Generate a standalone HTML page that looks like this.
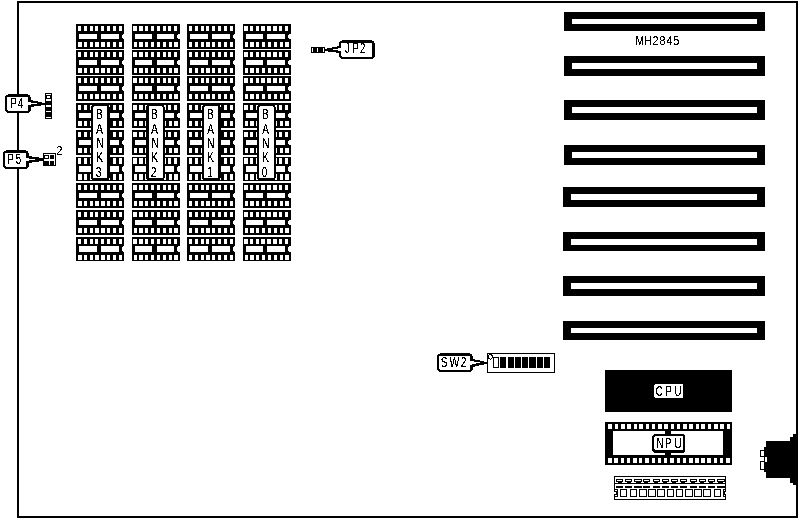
<!DOCTYPE html>
<html lang="en">
<head>
<meta charset="utf-8">
<title>MH2845</title>
<style>
html,body{margin:0;padding:0;background:#fff;}
body{width:800px;height:520px;overflow:hidden;}
svg{display:block;}
svg text{font-family:"Liberation Sans",sans-serif;filter:url(#bw);}
</style>
</head>
<body>
<svg width="800" height="520" viewBox="0 0 800 520" shape-rendering="crispEdges">
<defs><filter id="bw" x="-20%" y="-20%" width="140%" height="140%" color-interpolation-filters="sRGB"><feComponentTransfer><feFuncA type="discrete" tableValues="0 0 1 1 1"/></feComponentTransfer></filter></defs>
<rect x="0" y="0" width="800" height="520" fill="#fff"/>
<rect x="17" y="1" width="781" height="2" fill="#000"/>
<rect x="17" y="516" width="781" height="2" fill="#000"/>
<rect x="17" y="1" width="2" height="517" fill="#000"/>
<rect x="796" y="1" width="2" height="517" fill="#000"/>
<rect x="564" y="12" width="201" height="19" fill="#000"/>
<rect x="572" y="19" width="185" height="5" fill="#fff"/>
<rect x="564" y="56" width="201" height="20" fill="#000"/>
<rect x="572" y="63" width="185" height="6" fill="#fff"/>
<rect x="564" y="100" width="201" height="20" fill="#000"/>
<rect x="572" y="107" width="185" height="6" fill="#fff"/>
<rect x="564" y="145" width="201" height="20" fill="#000"/>
<rect x="572" y="152" width="185" height="6" fill="#fff"/>
<rect x="563" y="187" width="202" height="20" fill="#000"/>
<rect x="571" y="194" width="186" height="6" fill="#fff"/>
<rect x="563" y="232" width="202" height="19" fill="#000"/>
<rect x="571" y="239" width="186" height="6" fill="#fff"/>
<rect x="563" y="276" width="202" height="20" fill="#000"/>
<rect x="571" y="283" width="186" height="6" fill="#fff"/>
<rect x="563" y="321" width="202" height="19" fill="#000"/>
<rect x="571" y="328" width="186" height="5" fill="#fff"/>
<rect x="76" y="24" width="48" height="25" fill="#000"/>
<rect x="78" y="26" width="3" height="5" fill="#fff"/>
<rect x="84" y="26" width="3" height="5" fill="#fff"/>
<rect x="90" y="26" width="3" height="5" fill="#fff"/>
<rect x="95" y="26" width="3" height="5" fill="#fff"/>
<rect x="101" y="26" width="3" height="5" fill="#fff"/>
<rect x="107" y="26" width="3" height="5" fill="#fff"/>
<rect x="113" y="26" width="3" height="5" fill="#fff"/>
<rect x="119" y="26" width="3" height="5" fill="#fff"/>
<rect x="78" y="42" width="4" height="5" fill="#fff"/>
<rect x="84" y="42" width="3" height="5" fill="#fff"/>
<rect x="90" y="42" width="3" height="5" fill="#fff"/>
<rect x="95" y="42" width="4" height="5" fill="#fff"/>
<rect x="101" y="42" width="4" height="5" fill="#fff"/>
<rect x="107" y="42" width="3" height="5" fill="#fff"/>
<rect x="113" y="42" width="3" height="5" fill="#fff"/>
<rect x="119" y="42" width="3" height="5" fill="#fff"/>
<rect x="79" y="34" width="18" height="5" fill="#fff"/>
<rect x="101" y="34" width="18" height="5" fill="#fff"/>
<rect x="123" y="34" width="1" height="5" fill="#fff"/>
<rect x="122" y="35" width="1" height="3" fill="#fff"/>
<rect x="76" y="50" width="48" height="25" fill="#000"/>
<rect x="78" y="52" width="3" height="5" fill="#fff"/>
<rect x="84" y="52" width="3" height="5" fill="#fff"/>
<rect x="90" y="52" width="3" height="5" fill="#fff"/>
<rect x="95" y="52" width="3" height="5" fill="#fff"/>
<rect x="101" y="52" width="3" height="5" fill="#fff"/>
<rect x="107" y="52" width="3" height="5" fill="#fff"/>
<rect x="113" y="52" width="3" height="5" fill="#fff"/>
<rect x="119" y="52" width="3" height="5" fill="#fff"/>
<rect x="78" y="68" width="4" height="5" fill="#fff"/>
<rect x="84" y="68" width="3" height="5" fill="#fff"/>
<rect x="90" y="68" width="3" height="5" fill="#fff"/>
<rect x="95" y="68" width="4" height="5" fill="#fff"/>
<rect x="101" y="68" width="4" height="5" fill="#fff"/>
<rect x="107" y="68" width="3" height="5" fill="#fff"/>
<rect x="113" y="68" width="3" height="5" fill="#fff"/>
<rect x="119" y="68" width="3" height="5" fill="#fff"/>
<rect x="79" y="60" width="18" height="5" fill="#fff"/>
<rect x="101" y="60" width="18" height="5" fill="#fff"/>
<rect x="123" y="60" width="1" height="5" fill="#fff"/>
<rect x="122" y="61" width="1" height="3" fill="#fff"/>
<rect x="76" y="76" width="48" height="25" fill="#000"/>
<rect x="78" y="78" width="3" height="5" fill="#fff"/>
<rect x="84" y="78" width="3" height="5" fill="#fff"/>
<rect x="90" y="78" width="3" height="5" fill="#fff"/>
<rect x="95" y="78" width="3" height="5" fill="#fff"/>
<rect x="101" y="78" width="3" height="5" fill="#fff"/>
<rect x="107" y="78" width="3" height="5" fill="#fff"/>
<rect x="113" y="78" width="3" height="5" fill="#fff"/>
<rect x="119" y="78" width="3" height="5" fill="#fff"/>
<rect x="78" y="94" width="4" height="5" fill="#fff"/>
<rect x="84" y="94" width="3" height="5" fill="#fff"/>
<rect x="90" y="94" width="3" height="5" fill="#fff"/>
<rect x="95" y="94" width="4" height="5" fill="#fff"/>
<rect x="101" y="94" width="4" height="5" fill="#fff"/>
<rect x="107" y="94" width="3" height="5" fill="#fff"/>
<rect x="113" y="94" width="3" height="5" fill="#fff"/>
<rect x="119" y="94" width="3" height="5" fill="#fff"/>
<rect x="79" y="86" width="18" height="5" fill="#fff"/>
<rect x="101" y="86" width="18" height="5" fill="#fff"/>
<rect x="123" y="86" width="1" height="5" fill="#fff"/>
<rect x="122" y="87" width="1" height="3" fill="#fff"/>
<rect x="76" y="103" width="48" height="25" fill="#000"/>
<rect x="78" y="105" width="3" height="5" fill="#fff"/>
<rect x="84" y="105" width="3" height="5" fill="#fff"/>
<rect x="90" y="105" width="3" height="5" fill="#fff"/>
<rect x="95" y="105" width="3" height="5" fill="#fff"/>
<rect x="101" y="105" width="3" height="5" fill="#fff"/>
<rect x="107" y="105" width="3" height="5" fill="#fff"/>
<rect x="113" y="105" width="3" height="5" fill="#fff"/>
<rect x="119" y="105" width="3" height="5" fill="#fff"/>
<rect x="78" y="121" width="4" height="5" fill="#fff"/>
<rect x="84" y="121" width="3" height="5" fill="#fff"/>
<rect x="90" y="121" width="3" height="5" fill="#fff"/>
<rect x="95" y="121" width="4" height="5" fill="#fff"/>
<rect x="101" y="121" width="4" height="5" fill="#fff"/>
<rect x="107" y="121" width="3" height="5" fill="#fff"/>
<rect x="113" y="121" width="3" height="5" fill="#fff"/>
<rect x="119" y="121" width="3" height="5" fill="#fff"/>
<rect x="79" y="113" width="18" height="5" fill="#fff"/>
<rect x="101" y="113" width="18" height="5" fill="#fff"/>
<rect x="123" y="113" width="1" height="5" fill="#fff"/>
<rect x="122" y="114" width="1" height="3" fill="#fff"/>
<rect x="76" y="130" width="48" height="25" fill="#000"/>
<rect x="78" y="132" width="3" height="5" fill="#fff"/>
<rect x="84" y="132" width="3" height="5" fill="#fff"/>
<rect x="90" y="132" width="3" height="5" fill="#fff"/>
<rect x="95" y="132" width="3" height="5" fill="#fff"/>
<rect x="101" y="132" width="3" height="5" fill="#fff"/>
<rect x="107" y="132" width="3" height="5" fill="#fff"/>
<rect x="113" y="132" width="3" height="5" fill="#fff"/>
<rect x="119" y="132" width="3" height="5" fill="#fff"/>
<rect x="78" y="148" width="4" height="5" fill="#fff"/>
<rect x="84" y="148" width="3" height="5" fill="#fff"/>
<rect x="90" y="148" width="3" height="5" fill="#fff"/>
<rect x="95" y="148" width="4" height="5" fill="#fff"/>
<rect x="101" y="148" width="4" height="5" fill="#fff"/>
<rect x="107" y="148" width="3" height="5" fill="#fff"/>
<rect x="113" y="148" width="3" height="5" fill="#fff"/>
<rect x="119" y="148" width="3" height="5" fill="#fff"/>
<rect x="79" y="140" width="18" height="5" fill="#fff"/>
<rect x="101" y="140" width="18" height="5" fill="#fff"/>
<rect x="123" y="140" width="1" height="5" fill="#fff"/>
<rect x="122" y="141" width="1" height="3" fill="#fff"/>
<rect x="76" y="157" width="48" height="24" fill="#000"/>
<rect x="78" y="158" width="3" height="6" fill="#fff"/>
<rect x="84" y="158" width="3" height="6" fill="#fff"/>
<rect x="90" y="158" width="3" height="6" fill="#fff"/>
<rect x="95" y="158" width="3" height="6" fill="#fff"/>
<rect x="101" y="158" width="3" height="6" fill="#fff"/>
<rect x="107" y="158" width="3" height="6" fill="#fff"/>
<rect x="113" y="158" width="3" height="6" fill="#fff"/>
<rect x="119" y="158" width="3" height="6" fill="#fff"/>
<rect x="78" y="174" width="4" height="6" fill="#fff"/>
<rect x="84" y="174" width="3" height="6" fill="#fff"/>
<rect x="90" y="174" width="3" height="6" fill="#fff"/>
<rect x="95" y="174" width="4" height="6" fill="#fff"/>
<rect x="101" y="174" width="4" height="6" fill="#fff"/>
<rect x="107" y="174" width="3" height="6" fill="#fff"/>
<rect x="113" y="174" width="3" height="6" fill="#fff"/>
<rect x="119" y="174" width="3" height="6" fill="#fff"/>
<rect x="79" y="166" width="18" height="6" fill="#fff"/>
<rect x="101" y="166" width="18" height="6" fill="#fff"/>
<rect x="123" y="166" width="1" height="6" fill="#fff"/>
<rect x="122" y="167" width="1" height="4" fill="#fff"/>
<rect x="76" y="183" width="48" height="25" fill="#000"/>
<rect x="78" y="185" width="3" height="5" fill="#fff"/>
<rect x="84" y="185" width="3" height="5" fill="#fff"/>
<rect x="90" y="185" width="3" height="5" fill="#fff"/>
<rect x="95" y="185" width="3" height="5" fill="#fff"/>
<rect x="101" y="185" width="3" height="5" fill="#fff"/>
<rect x="107" y="185" width="3" height="5" fill="#fff"/>
<rect x="113" y="185" width="3" height="5" fill="#fff"/>
<rect x="119" y="185" width="3" height="5" fill="#fff"/>
<rect x="78" y="201" width="4" height="5" fill="#fff"/>
<rect x="84" y="201" width="3" height="5" fill="#fff"/>
<rect x="90" y="201" width="3" height="5" fill="#fff"/>
<rect x="95" y="201" width="4" height="5" fill="#fff"/>
<rect x="101" y="201" width="4" height="5" fill="#fff"/>
<rect x="107" y="201" width="3" height="5" fill="#fff"/>
<rect x="113" y="201" width="3" height="5" fill="#fff"/>
<rect x="119" y="201" width="3" height="5" fill="#fff"/>
<rect x="79" y="193" width="18" height="5" fill="#fff"/>
<rect x="101" y="193" width="18" height="5" fill="#fff"/>
<rect x="123" y="193" width="1" height="5" fill="#fff"/>
<rect x="122" y="194" width="1" height="3" fill="#fff"/>
<rect x="76" y="210" width="48" height="25" fill="#000"/>
<rect x="78" y="212" width="3" height="5" fill="#fff"/>
<rect x="84" y="212" width="3" height="5" fill="#fff"/>
<rect x="90" y="212" width="3" height="5" fill="#fff"/>
<rect x="95" y="212" width="3" height="5" fill="#fff"/>
<rect x="101" y="212" width="3" height="5" fill="#fff"/>
<rect x="107" y="212" width="3" height="5" fill="#fff"/>
<rect x="113" y="212" width="3" height="5" fill="#fff"/>
<rect x="119" y="212" width="3" height="5" fill="#fff"/>
<rect x="78" y="228" width="4" height="5" fill="#fff"/>
<rect x="84" y="228" width="3" height="5" fill="#fff"/>
<rect x="90" y="228" width="3" height="5" fill="#fff"/>
<rect x="95" y="228" width="4" height="5" fill="#fff"/>
<rect x="101" y="228" width="4" height="5" fill="#fff"/>
<rect x="107" y="228" width="3" height="5" fill="#fff"/>
<rect x="113" y="228" width="3" height="5" fill="#fff"/>
<rect x="119" y="228" width="3" height="5" fill="#fff"/>
<rect x="79" y="220" width="18" height="5" fill="#fff"/>
<rect x="101" y="220" width="18" height="5" fill="#fff"/>
<rect x="123" y="220" width="1" height="5" fill="#fff"/>
<rect x="122" y="221" width="1" height="3" fill="#fff"/>
<rect x="76" y="237" width="48" height="24" fill="#000"/>
<rect x="78" y="239" width="3" height="5" fill="#fff"/>
<rect x="84" y="239" width="3" height="5" fill="#fff"/>
<rect x="90" y="239" width="3" height="5" fill="#fff"/>
<rect x="95" y="239" width="3" height="5" fill="#fff"/>
<rect x="101" y="239" width="3" height="5" fill="#fff"/>
<rect x="107" y="239" width="3" height="5" fill="#fff"/>
<rect x="113" y="239" width="3" height="5" fill="#fff"/>
<rect x="119" y="239" width="3" height="5" fill="#fff"/>
<rect x="78" y="255" width="4" height="5" fill="#fff"/>
<rect x="84" y="255" width="3" height="5" fill="#fff"/>
<rect x="90" y="255" width="3" height="5" fill="#fff"/>
<rect x="95" y="255" width="4" height="5" fill="#fff"/>
<rect x="101" y="255" width="4" height="5" fill="#fff"/>
<rect x="107" y="255" width="3" height="5" fill="#fff"/>
<rect x="113" y="255" width="3" height="5" fill="#fff"/>
<rect x="119" y="255" width="3" height="5" fill="#fff"/>
<rect x="79" y="246" width="18" height="6" fill="#fff"/>
<rect x="101" y="246" width="18" height="6" fill="#fff"/>
<rect x="123" y="246" width="1" height="6" fill="#fff"/>
<rect x="122" y="247" width="1" height="4" fill="#fff"/>
<rect x="132" y="24" width="48" height="25" fill="#000"/>
<rect x="133" y="26" width="4" height="5" fill="#fff"/>
<rect x="139" y="26" width="4" height="5" fill="#fff"/>
<rect x="145" y="26" width="3" height="5" fill="#fff"/>
<rect x="151" y="26" width="3" height="5" fill="#fff"/>
<rect x="157" y="26" width="3" height="5" fill="#fff"/>
<rect x="163" y="26" width="3" height="5" fill="#fff"/>
<rect x="168" y="26" width="3" height="5" fill="#fff"/>
<rect x="174" y="26" width="3" height="5" fill="#fff"/>
<rect x="134" y="42" width="3" height="5" fill="#fff"/>
<rect x="139" y="42" width="4" height="5" fill="#fff"/>
<rect x="145" y="42" width="3" height="5" fill="#fff"/>
<rect x="151" y="42" width="3" height="5" fill="#fff"/>
<rect x="157" y="42" width="3" height="5" fill="#fff"/>
<rect x="163" y="42" width="3" height="5" fill="#fff"/>
<rect x="169" y="42" width="3" height="5" fill="#fff"/>
<rect x="174" y="42" width="4" height="5" fill="#fff"/>
<rect x="135" y="34" width="17" height="5" fill="#fff"/>
<rect x="157" y="34" width="17" height="5" fill="#fff"/>
<rect x="178" y="34" width="2" height="5" fill="#fff"/>
<rect x="177" y="35" width="1" height="3" fill="#fff"/>
<rect x="132" y="50" width="48" height="25" fill="#000"/>
<rect x="133" y="52" width="4" height="5" fill="#fff"/>
<rect x="139" y="52" width="4" height="5" fill="#fff"/>
<rect x="145" y="52" width="3" height="5" fill="#fff"/>
<rect x="151" y="52" width="3" height="5" fill="#fff"/>
<rect x="157" y="52" width="3" height="5" fill="#fff"/>
<rect x="163" y="52" width="3" height="5" fill="#fff"/>
<rect x="168" y="52" width="3" height="5" fill="#fff"/>
<rect x="174" y="52" width="3" height="5" fill="#fff"/>
<rect x="134" y="68" width="3" height="5" fill="#fff"/>
<rect x="139" y="68" width="4" height="5" fill="#fff"/>
<rect x="145" y="68" width="3" height="5" fill="#fff"/>
<rect x="151" y="68" width="3" height="5" fill="#fff"/>
<rect x="157" y="68" width="3" height="5" fill="#fff"/>
<rect x="163" y="68" width="3" height="5" fill="#fff"/>
<rect x="169" y="68" width="3" height="5" fill="#fff"/>
<rect x="174" y="68" width="4" height="5" fill="#fff"/>
<rect x="135" y="60" width="17" height="5" fill="#fff"/>
<rect x="157" y="60" width="17" height="5" fill="#fff"/>
<rect x="178" y="60" width="2" height="5" fill="#fff"/>
<rect x="177" y="61" width="1" height="3" fill="#fff"/>
<rect x="132" y="76" width="48" height="25" fill="#000"/>
<rect x="133" y="78" width="4" height="5" fill="#fff"/>
<rect x="139" y="78" width="4" height="5" fill="#fff"/>
<rect x="145" y="78" width="3" height="5" fill="#fff"/>
<rect x="151" y="78" width="3" height="5" fill="#fff"/>
<rect x="157" y="78" width="3" height="5" fill="#fff"/>
<rect x="163" y="78" width="3" height="5" fill="#fff"/>
<rect x="168" y="78" width="3" height="5" fill="#fff"/>
<rect x="174" y="78" width="3" height="5" fill="#fff"/>
<rect x="134" y="94" width="3" height="5" fill="#fff"/>
<rect x="139" y="94" width="4" height="5" fill="#fff"/>
<rect x="145" y="94" width="3" height="5" fill="#fff"/>
<rect x="151" y="94" width="3" height="5" fill="#fff"/>
<rect x="157" y="94" width="3" height="5" fill="#fff"/>
<rect x="163" y="94" width="3" height="5" fill="#fff"/>
<rect x="169" y="94" width="3" height="5" fill="#fff"/>
<rect x="174" y="94" width="4" height="5" fill="#fff"/>
<rect x="135" y="86" width="17" height="5" fill="#fff"/>
<rect x="157" y="86" width="17" height="5" fill="#fff"/>
<rect x="178" y="86" width="2" height="5" fill="#fff"/>
<rect x="177" y="87" width="1" height="3" fill="#fff"/>
<rect x="132" y="103" width="48" height="25" fill="#000"/>
<rect x="133" y="105" width="4" height="5" fill="#fff"/>
<rect x="139" y="105" width="4" height="5" fill="#fff"/>
<rect x="145" y="105" width="3" height="5" fill="#fff"/>
<rect x="151" y="105" width="3" height="5" fill="#fff"/>
<rect x="157" y="105" width="3" height="5" fill="#fff"/>
<rect x="163" y="105" width="3" height="5" fill="#fff"/>
<rect x="168" y="105" width="3" height="5" fill="#fff"/>
<rect x="174" y="105" width="3" height="5" fill="#fff"/>
<rect x="134" y="121" width="3" height="5" fill="#fff"/>
<rect x="139" y="121" width="4" height="5" fill="#fff"/>
<rect x="145" y="121" width="3" height="5" fill="#fff"/>
<rect x="151" y="121" width="3" height="5" fill="#fff"/>
<rect x="157" y="121" width="3" height="5" fill="#fff"/>
<rect x="163" y="121" width="3" height="5" fill="#fff"/>
<rect x="169" y="121" width="3" height="5" fill="#fff"/>
<rect x="174" y="121" width="4" height="5" fill="#fff"/>
<rect x="135" y="113" width="17" height="5" fill="#fff"/>
<rect x="157" y="113" width="17" height="5" fill="#fff"/>
<rect x="178" y="113" width="2" height="5" fill="#fff"/>
<rect x="177" y="114" width="1" height="3" fill="#fff"/>
<rect x="132" y="130" width="48" height="25" fill="#000"/>
<rect x="133" y="132" width="4" height="5" fill="#fff"/>
<rect x="139" y="132" width="4" height="5" fill="#fff"/>
<rect x="145" y="132" width="3" height="5" fill="#fff"/>
<rect x="151" y="132" width="3" height="5" fill="#fff"/>
<rect x="157" y="132" width="3" height="5" fill="#fff"/>
<rect x="163" y="132" width="3" height="5" fill="#fff"/>
<rect x="168" y="132" width="3" height="5" fill="#fff"/>
<rect x="174" y="132" width="3" height="5" fill="#fff"/>
<rect x="134" y="148" width="3" height="5" fill="#fff"/>
<rect x="139" y="148" width="4" height="5" fill="#fff"/>
<rect x="145" y="148" width="3" height="5" fill="#fff"/>
<rect x="151" y="148" width="3" height="5" fill="#fff"/>
<rect x="157" y="148" width="3" height="5" fill="#fff"/>
<rect x="163" y="148" width="3" height="5" fill="#fff"/>
<rect x="169" y="148" width="3" height="5" fill="#fff"/>
<rect x="174" y="148" width="4" height="5" fill="#fff"/>
<rect x="135" y="140" width="17" height="5" fill="#fff"/>
<rect x="157" y="140" width="17" height="5" fill="#fff"/>
<rect x="178" y="140" width="2" height="5" fill="#fff"/>
<rect x="177" y="141" width="1" height="3" fill="#fff"/>
<rect x="132" y="157" width="48" height="24" fill="#000"/>
<rect x="133" y="158" width="4" height="6" fill="#fff"/>
<rect x="139" y="158" width="4" height="6" fill="#fff"/>
<rect x="145" y="158" width="3" height="6" fill="#fff"/>
<rect x="151" y="158" width="3" height="6" fill="#fff"/>
<rect x="157" y="158" width="3" height="6" fill="#fff"/>
<rect x="163" y="158" width="3" height="6" fill="#fff"/>
<rect x="168" y="158" width="3" height="6" fill="#fff"/>
<rect x="174" y="158" width="3" height="6" fill="#fff"/>
<rect x="134" y="174" width="3" height="6" fill="#fff"/>
<rect x="139" y="174" width="4" height="6" fill="#fff"/>
<rect x="145" y="174" width="3" height="6" fill="#fff"/>
<rect x="151" y="174" width="3" height="6" fill="#fff"/>
<rect x="157" y="174" width="3" height="6" fill="#fff"/>
<rect x="163" y="174" width="3" height="6" fill="#fff"/>
<rect x="169" y="174" width="3" height="6" fill="#fff"/>
<rect x="174" y="174" width="4" height="6" fill="#fff"/>
<rect x="135" y="166" width="17" height="6" fill="#fff"/>
<rect x="157" y="166" width="17" height="6" fill="#fff"/>
<rect x="178" y="166" width="2" height="6" fill="#fff"/>
<rect x="177" y="167" width="1" height="4" fill="#fff"/>
<rect x="132" y="183" width="48" height="25" fill="#000"/>
<rect x="133" y="185" width="4" height="5" fill="#fff"/>
<rect x="139" y="185" width="4" height="5" fill="#fff"/>
<rect x="145" y="185" width="3" height="5" fill="#fff"/>
<rect x="151" y="185" width="3" height="5" fill="#fff"/>
<rect x="157" y="185" width="3" height="5" fill="#fff"/>
<rect x="163" y="185" width="3" height="5" fill="#fff"/>
<rect x="168" y="185" width="3" height="5" fill="#fff"/>
<rect x="174" y="185" width="3" height="5" fill="#fff"/>
<rect x="134" y="201" width="3" height="5" fill="#fff"/>
<rect x="139" y="201" width="4" height="5" fill="#fff"/>
<rect x="145" y="201" width="3" height="5" fill="#fff"/>
<rect x="151" y="201" width="3" height="5" fill="#fff"/>
<rect x="157" y="201" width="3" height="5" fill="#fff"/>
<rect x="163" y="201" width="3" height="5" fill="#fff"/>
<rect x="169" y="201" width="3" height="5" fill="#fff"/>
<rect x="174" y="201" width="4" height="5" fill="#fff"/>
<rect x="135" y="193" width="17" height="5" fill="#fff"/>
<rect x="157" y="193" width="17" height="5" fill="#fff"/>
<rect x="178" y="193" width="2" height="5" fill="#fff"/>
<rect x="177" y="194" width="1" height="3" fill="#fff"/>
<rect x="132" y="210" width="48" height="25" fill="#000"/>
<rect x="133" y="212" width="4" height="5" fill="#fff"/>
<rect x="139" y="212" width="4" height="5" fill="#fff"/>
<rect x="145" y="212" width="3" height="5" fill="#fff"/>
<rect x="151" y="212" width="3" height="5" fill="#fff"/>
<rect x="157" y="212" width="3" height="5" fill="#fff"/>
<rect x="163" y="212" width="3" height="5" fill="#fff"/>
<rect x="168" y="212" width="3" height="5" fill="#fff"/>
<rect x="174" y="212" width="3" height="5" fill="#fff"/>
<rect x="134" y="228" width="3" height="5" fill="#fff"/>
<rect x="139" y="228" width="4" height="5" fill="#fff"/>
<rect x="145" y="228" width="3" height="5" fill="#fff"/>
<rect x="151" y="228" width="3" height="5" fill="#fff"/>
<rect x="157" y="228" width="3" height="5" fill="#fff"/>
<rect x="163" y="228" width="3" height="5" fill="#fff"/>
<rect x="169" y="228" width="3" height="5" fill="#fff"/>
<rect x="174" y="228" width="4" height="5" fill="#fff"/>
<rect x="135" y="220" width="17" height="5" fill="#fff"/>
<rect x="157" y="220" width="17" height="5" fill="#fff"/>
<rect x="178" y="220" width="2" height="5" fill="#fff"/>
<rect x="177" y="221" width="1" height="3" fill="#fff"/>
<rect x="132" y="237" width="48" height="24" fill="#000"/>
<rect x="133" y="239" width="4" height="5" fill="#fff"/>
<rect x="139" y="239" width="4" height="5" fill="#fff"/>
<rect x="145" y="239" width="3" height="5" fill="#fff"/>
<rect x="151" y="239" width="3" height="5" fill="#fff"/>
<rect x="157" y="239" width="3" height="5" fill="#fff"/>
<rect x="163" y="239" width="3" height="5" fill="#fff"/>
<rect x="168" y="239" width="3" height="5" fill="#fff"/>
<rect x="174" y="239" width="3" height="5" fill="#fff"/>
<rect x="134" y="255" width="3" height="5" fill="#fff"/>
<rect x="139" y="255" width="4" height="5" fill="#fff"/>
<rect x="145" y="255" width="3" height="5" fill="#fff"/>
<rect x="151" y="255" width="3" height="5" fill="#fff"/>
<rect x="157" y="255" width="3" height="5" fill="#fff"/>
<rect x="163" y="255" width="3" height="5" fill="#fff"/>
<rect x="169" y="255" width="3" height="5" fill="#fff"/>
<rect x="174" y="255" width="4" height="5" fill="#fff"/>
<rect x="135" y="246" width="17" height="6" fill="#fff"/>
<rect x="157" y="246" width="17" height="6" fill="#fff"/>
<rect x="178" y="246" width="2" height="6" fill="#fff"/>
<rect x="177" y="247" width="1" height="4" fill="#fff"/>
<rect x="187" y="24" width="48" height="25" fill="#000"/>
<rect x="189" y="26" width="3" height="5" fill="#fff"/>
<rect x="195" y="26" width="3" height="5" fill="#fff"/>
<rect x="201" y="26" width="3" height="5" fill="#fff"/>
<rect x="206" y="26" width="3" height="5" fill="#fff"/>
<rect x="212" y="26" width="3" height="5" fill="#fff"/>
<rect x="218" y="26" width="3" height="5" fill="#fff"/>
<rect x="224" y="26" width="3" height="5" fill="#fff"/>
<rect x="230" y="26" width="3" height="5" fill="#fff"/>
<rect x="189" y="42" width="3" height="5" fill="#fff"/>
<rect x="195" y="42" width="3" height="5" fill="#fff"/>
<rect x="201" y="42" width="3" height="5" fill="#fff"/>
<rect x="206" y="42" width="4" height="5" fill="#fff"/>
<rect x="212" y="42" width="3" height="5" fill="#fff"/>
<rect x="218" y="42" width="3" height="5" fill="#fff"/>
<rect x="224" y="42" width="3" height="5" fill="#fff"/>
<rect x="230" y="42" width="3" height="5" fill="#fff"/>
<rect x="190" y="34" width="18" height="5" fill="#fff"/>
<rect x="212" y="34" width="18" height="5" fill="#fff"/>
<rect x="234" y="34" width="1" height="5" fill="#fff"/>
<rect x="233" y="35" width="1" height="3" fill="#fff"/>
<rect x="187" y="50" width="48" height="25" fill="#000"/>
<rect x="189" y="52" width="3" height="5" fill="#fff"/>
<rect x="195" y="52" width="3" height="5" fill="#fff"/>
<rect x="201" y="52" width="3" height="5" fill="#fff"/>
<rect x="206" y="52" width="3" height="5" fill="#fff"/>
<rect x="212" y="52" width="3" height="5" fill="#fff"/>
<rect x="218" y="52" width="3" height="5" fill="#fff"/>
<rect x="224" y="52" width="3" height="5" fill="#fff"/>
<rect x="230" y="52" width="3" height="5" fill="#fff"/>
<rect x="189" y="68" width="3" height="5" fill="#fff"/>
<rect x="195" y="68" width="3" height="5" fill="#fff"/>
<rect x="201" y="68" width="3" height="5" fill="#fff"/>
<rect x="206" y="68" width="4" height="5" fill="#fff"/>
<rect x="212" y="68" width="3" height="5" fill="#fff"/>
<rect x="218" y="68" width="3" height="5" fill="#fff"/>
<rect x="224" y="68" width="3" height="5" fill="#fff"/>
<rect x="230" y="68" width="3" height="5" fill="#fff"/>
<rect x="190" y="60" width="18" height="5" fill="#fff"/>
<rect x="212" y="60" width="18" height="5" fill="#fff"/>
<rect x="234" y="60" width="1" height="5" fill="#fff"/>
<rect x="233" y="61" width="1" height="3" fill="#fff"/>
<rect x="187" y="76" width="48" height="25" fill="#000"/>
<rect x="189" y="78" width="3" height="5" fill="#fff"/>
<rect x="195" y="78" width="3" height="5" fill="#fff"/>
<rect x="201" y="78" width="3" height="5" fill="#fff"/>
<rect x="206" y="78" width="3" height="5" fill="#fff"/>
<rect x="212" y="78" width="3" height="5" fill="#fff"/>
<rect x="218" y="78" width="3" height="5" fill="#fff"/>
<rect x="224" y="78" width="3" height="5" fill="#fff"/>
<rect x="230" y="78" width="3" height="5" fill="#fff"/>
<rect x="189" y="94" width="3" height="5" fill="#fff"/>
<rect x="195" y="94" width="3" height="5" fill="#fff"/>
<rect x="201" y="94" width="3" height="5" fill="#fff"/>
<rect x="206" y="94" width="4" height="5" fill="#fff"/>
<rect x="212" y="94" width="3" height="5" fill="#fff"/>
<rect x="218" y="94" width="3" height="5" fill="#fff"/>
<rect x="224" y="94" width="3" height="5" fill="#fff"/>
<rect x="230" y="94" width="3" height="5" fill="#fff"/>
<rect x="190" y="86" width="18" height="5" fill="#fff"/>
<rect x="212" y="86" width="18" height="5" fill="#fff"/>
<rect x="234" y="86" width="1" height="5" fill="#fff"/>
<rect x="233" y="87" width="1" height="3" fill="#fff"/>
<rect x="187" y="103" width="48" height="25" fill="#000"/>
<rect x="189" y="105" width="3" height="5" fill="#fff"/>
<rect x="195" y="105" width="3" height="5" fill="#fff"/>
<rect x="201" y="105" width="3" height="5" fill="#fff"/>
<rect x="206" y="105" width="3" height="5" fill="#fff"/>
<rect x="212" y="105" width="3" height="5" fill="#fff"/>
<rect x="218" y="105" width="3" height="5" fill="#fff"/>
<rect x="224" y="105" width="3" height="5" fill="#fff"/>
<rect x="230" y="105" width="3" height="5" fill="#fff"/>
<rect x="189" y="121" width="3" height="5" fill="#fff"/>
<rect x="195" y="121" width="3" height="5" fill="#fff"/>
<rect x="201" y="121" width="3" height="5" fill="#fff"/>
<rect x="206" y="121" width="4" height="5" fill="#fff"/>
<rect x="212" y="121" width="3" height="5" fill="#fff"/>
<rect x="218" y="121" width="3" height="5" fill="#fff"/>
<rect x="224" y="121" width="3" height="5" fill="#fff"/>
<rect x="230" y="121" width="3" height="5" fill="#fff"/>
<rect x="190" y="113" width="18" height="5" fill="#fff"/>
<rect x="212" y="113" width="18" height="5" fill="#fff"/>
<rect x="234" y="113" width="1" height="5" fill="#fff"/>
<rect x="233" y="114" width="1" height="3" fill="#fff"/>
<rect x="187" y="130" width="48" height="25" fill="#000"/>
<rect x="189" y="132" width="3" height="5" fill="#fff"/>
<rect x="195" y="132" width="3" height="5" fill="#fff"/>
<rect x="201" y="132" width="3" height="5" fill="#fff"/>
<rect x="206" y="132" width="3" height="5" fill="#fff"/>
<rect x="212" y="132" width="3" height="5" fill="#fff"/>
<rect x="218" y="132" width="3" height="5" fill="#fff"/>
<rect x="224" y="132" width="3" height="5" fill="#fff"/>
<rect x="230" y="132" width="3" height="5" fill="#fff"/>
<rect x="189" y="148" width="3" height="5" fill="#fff"/>
<rect x="195" y="148" width="3" height="5" fill="#fff"/>
<rect x="201" y="148" width="3" height="5" fill="#fff"/>
<rect x="206" y="148" width="4" height="5" fill="#fff"/>
<rect x="212" y="148" width="3" height="5" fill="#fff"/>
<rect x="218" y="148" width="3" height="5" fill="#fff"/>
<rect x="224" y="148" width="3" height="5" fill="#fff"/>
<rect x="230" y="148" width="3" height="5" fill="#fff"/>
<rect x="190" y="140" width="18" height="5" fill="#fff"/>
<rect x="212" y="140" width="18" height="5" fill="#fff"/>
<rect x="234" y="140" width="1" height="5" fill="#fff"/>
<rect x="233" y="141" width="1" height="3" fill="#fff"/>
<rect x="187" y="157" width="48" height="24" fill="#000"/>
<rect x="189" y="158" width="3" height="6" fill="#fff"/>
<rect x="195" y="158" width="3" height="6" fill="#fff"/>
<rect x="201" y="158" width="3" height="6" fill="#fff"/>
<rect x="206" y="158" width="3" height="6" fill="#fff"/>
<rect x="212" y="158" width="3" height="6" fill="#fff"/>
<rect x="218" y="158" width="3" height="6" fill="#fff"/>
<rect x="224" y="158" width="3" height="6" fill="#fff"/>
<rect x="230" y="158" width="3" height="6" fill="#fff"/>
<rect x="189" y="174" width="3" height="6" fill="#fff"/>
<rect x="195" y="174" width="3" height="6" fill="#fff"/>
<rect x="201" y="174" width="3" height="6" fill="#fff"/>
<rect x="206" y="174" width="4" height="6" fill="#fff"/>
<rect x="212" y="174" width="3" height="6" fill="#fff"/>
<rect x="218" y="174" width="3" height="6" fill="#fff"/>
<rect x="224" y="174" width="3" height="6" fill="#fff"/>
<rect x="230" y="174" width="3" height="6" fill="#fff"/>
<rect x="190" y="166" width="18" height="6" fill="#fff"/>
<rect x="212" y="166" width="18" height="6" fill="#fff"/>
<rect x="234" y="166" width="1" height="6" fill="#fff"/>
<rect x="233" y="167" width="1" height="4" fill="#fff"/>
<rect x="187" y="183" width="48" height="25" fill="#000"/>
<rect x="189" y="185" width="3" height="5" fill="#fff"/>
<rect x="195" y="185" width="3" height="5" fill="#fff"/>
<rect x="201" y="185" width="3" height="5" fill="#fff"/>
<rect x="206" y="185" width="3" height="5" fill="#fff"/>
<rect x="212" y="185" width="3" height="5" fill="#fff"/>
<rect x="218" y="185" width="3" height="5" fill="#fff"/>
<rect x="224" y="185" width="3" height="5" fill="#fff"/>
<rect x="230" y="185" width="3" height="5" fill="#fff"/>
<rect x="189" y="201" width="3" height="5" fill="#fff"/>
<rect x="195" y="201" width="3" height="5" fill="#fff"/>
<rect x="201" y="201" width="3" height="5" fill="#fff"/>
<rect x="206" y="201" width="4" height="5" fill="#fff"/>
<rect x="212" y="201" width="3" height="5" fill="#fff"/>
<rect x="218" y="201" width="3" height="5" fill="#fff"/>
<rect x="224" y="201" width="3" height="5" fill="#fff"/>
<rect x="230" y="201" width="3" height="5" fill="#fff"/>
<rect x="190" y="193" width="18" height="5" fill="#fff"/>
<rect x="212" y="193" width="18" height="5" fill="#fff"/>
<rect x="234" y="193" width="1" height="5" fill="#fff"/>
<rect x="233" y="194" width="1" height="3" fill="#fff"/>
<rect x="187" y="210" width="48" height="25" fill="#000"/>
<rect x="189" y="212" width="3" height="5" fill="#fff"/>
<rect x="195" y="212" width="3" height="5" fill="#fff"/>
<rect x="201" y="212" width="3" height="5" fill="#fff"/>
<rect x="206" y="212" width="3" height="5" fill="#fff"/>
<rect x="212" y="212" width="3" height="5" fill="#fff"/>
<rect x="218" y="212" width="3" height="5" fill="#fff"/>
<rect x="224" y="212" width="3" height="5" fill="#fff"/>
<rect x="230" y="212" width="3" height="5" fill="#fff"/>
<rect x="189" y="228" width="3" height="5" fill="#fff"/>
<rect x="195" y="228" width="3" height="5" fill="#fff"/>
<rect x="201" y="228" width="3" height="5" fill="#fff"/>
<rect x="206" y="228" width="4" height="5" fill="#fff"/>
<rect x="212" y="228" width="3" height="5" fill="#fff"/>
<rect x="218" y="228" width="3" height="5" fill="#fff"/>
<rect x="224" y="228" width="3" height="5" fill="#fff"/>
<rect x="230" y="228" width="3" height="5" fill="#fff"/>
<rect x="190" y="220" width="18" height="5" fill="#fff"/>
<rect x="212" y="220" width="18" height="5" fill="#fff"/>
<rect x="234" y="220" width="1" height="5" fill="#fff"/>
<rect x="233" y="221" width="1" height="3" fill="#fff"/>
<rect x="187" y="237" width="48" height="24" fill="#000"/>
<rect x="189" y="239" width="3" height="5" fill="#fff"/>
<rect x="195" y="239" width="3" height="5" fill="#fff"/>
<rect x="201" y="239" width="3" height="5" fill="#fff"/>
<rect x="206" y="239" width="3" height="5" fill="#fff"/>
<rect x="212" y="239" width="3" height="5" fill="#fff"/>
<rect x="218" y="239" width="3" height="5" fill="#fff"/>
<rect x="224" y="239" width="3" height="5" fill="#fff"/>
<rect x="230" y="239" width="3" height="5" fill="#fff"/>
<rect x="189" y="255" width="3" height="5" fill="#fff"/>
<rect x="195" y="255" width="3" height="5" fill="#fff"/>
<rect x="201" y="255" width="3" height="5" fill="#fff"/>
<rect x="206" y="255" width="4" height="5" fill="#fff"/>
<rect x="212" y="255" width="3" height="5" fill="#fff"/>
<rect x="218" y="255" width="3" height="5" fill="#fff"/>
<rect x="224" y="255" width="3" height="5" fill="#fff"/>
<rect x="230" y="255" width="3" height="5" fill="#fff"/>
<rect x="190" y="246" width="18" height="6" fill="#fff"/>
<rect x="212" y="246" width="18" height="6" fill="#fff"/>
<rect x="234" y="246" width="1" height="6" fill="#fff"/>
<rect x="233" y="247" width="1" height="4" fill="#fff"/>
<rect x="243" y="24" width="48" height="25" fill="#000"/>
<rect x="244" y="26" width="4" height="5" fill="#fff"/>
<rect x="250" y="26" width="3" height="5" fill="#fff"/>
<rect x="256" y="26" width="3" height="5" fill="#fff"/>
<rect x="261" y="26" width="4" height="5" fill="#fff"/>
<rect x="267" y="26" width="4" height="5" fill="#fff"/>
<rect x="273" y="26" width="4" height="5" fill="#fff"/>
<rect x="279" y="26" width="3" height="5" fill="#fff"/>
<rect x="285" y="26" width="3" height="5" fill="#fff"/>
<rect x="245" y="42" width="3" height="5" fill="#fff"/>
<rect x="250" y="42" width="4" height="5" fill="#fff"/>
<rect x="256" y="42" width="3" height="5" fill="#fff"/>
<rect x="262" y="42" width="3" height="5" fill="#fff"/>
<rect x="268" y="42" width="3" height="5" fill="#fff"/>
<rect x="274" y="42" width="3" height="5" fill="#fff"/>
<rect x="280" y="42" width="3" height="5" fill="#fff"/>
<rect x="285" y="42" width="4" height="5" fill="#fff"/>
<rect x="246" y="34" width="17" height="5" fill="#fff"/>
<rect x="267" y="34" width="18" height="5" fill="#fff"/>
<rect x="289" y="34" width="2" height="5" fill="#fff"/>
<rect x="288" y="35" width="1" height="3" fill="#fff"/>
<rect x="243" y="50" width="48" height="25" fill="#000"/>
<rect x="244" y="52" width="4" height="5" fill="#fff"/>
<rect x="250" y="52" width="3" height="5" fill="#fff"/>
<rect x="256" y="52" width="3" height="5" fill="#fff"/>
<rect x="261" y="52" width="4" height="5" fill="#fff"/>
<rect x="267" y="52" width="4" height="5" fill="#fff"/>
<rect x="273" y="52" width="4" height="5" fill="#fff"/>
<rect x="279" y="52" width="3" height="5" fill="#fff"/>
<rect x="285" y="52" width="3" height="5" fill="#fff"/>
<rect x="245" y="68" width="3" height="5" fill="#fff"/>
<rect x="250" y="68" width="4" height="5" fill="#fff"/>
<rect x="256" y="68" width="3" height="5" fill="#fff"/>
<rect x="262" y="68" width="3" height="5" fill="#fff"/>
<rect x="268" y="68" width="3" height="5" fill="#fff"/>
<rect x="274" y="68" width="3" height="5" fill="#fff"/>
<rect x="280" y="68" width="3" height="5" fill="#fff"/>
<rect x="285" y="68" width="4" height="5" fill="#fff"/>
<rect x="246" y="60" width="17" height="5" fill="#fff"/>
<rect x="267" y="60" width="18" height="5" fill="#fff"/>
<rect x="289" y="60" width="2" height="5" fill="#fff"/>
<rect x="288" y="61" width="1" height="3" fill="#fff"/>
<rect x="243" y="76" width="48" height="25" fill="#000"/>
<rect x="244" y="78" width="4" height="5" fill="#fff"/>
<rect x="250" y="78" width="3" height="5" fill="#fff"/>
<rect x="256" y="78" width="3" height="5" fill="#fff"/>
<rect x="261" y="78" width="4" height="5" fill="#fff"/>
<rect x="267" y="78" width="4" height="5" fill="#fff"/>
<rect x="273" y="78" width="4" height="5" fill="#fff"/>
<rect x="279" y="78" width="3" height="5" fill="#fff"/>
<rect x="285" y="78" width="3" height="5" fill="#fff"/>
<rect x="245" y="94" width="3" height="5" fill="#fff"/>
<rect x="250" y="94" width="4" height="5" fill="#fff"/>
<rect x="256" y="94" width="3" height="5" fill="#fff"/>
<rect x="262" y="94" width="3" height="5" fill="#fff"/>
<rect x="268" y="94" width="3" height="5" fill="#fff"/>
<rect x="274" y="94" width="3" height="5" fill="#fff"/>
<rect x="280" y="94" width="3" height="5" fill="#fff"/>
<rect x="285" y="94" width="4" height="5" fill="#fff"/>
<rect x="246" y="86" width="17" height="5" fill="#fff"/>
<rect x="267" y="86" width="18" height="5" fill="#fff"/>
<rect x="289" y="86" width="2" height="5" fill="#fff"/>
<rect x="288" y="87" width="1" height="3" fill="#fff"/>
<rect x="243" y="103" width="48" height="25" fill="#000"/>
<rect x="244" y="105" width="4" height="5" fill="#fff"/>
<rect x="250" y="105" width="3" height="5" fill="#fff"/>
<rect x="256" y="105" width="3" height="5" fill="#fff"/>
<rect x="261" y="105" width="4" height="5" fill="#fff"/>
<rect x="267" y="105" width="4" height="5" fill="#fff"/>
<rect x="273" y="105" width="4" height="5" fill="#fff"/>
<rect x="279" y="105" width="3" height="5" fill="#fff"/>
<rect x="285" y="105" width="3" height="5" fill="#fff"/>
<rect x="245" y="121" width="3" height="5" fill="#fff"/>
<rect x="250" y="121" width="4" height="5" fill="#fff"/>
<rect x="256" y="121" width="3" height="5" fill="#fff"/>
<rect x="262" y="121" width="3" height="5" fill="#fff"/>
<rect x="268" y="121" width="3" height="5" fill="#fff"/>
<rect x="274" y="121" width="3" height="5" fill="#fff"/>
<rect x="280" y="121" width="3" height="5" fill="#fff"/>
<rect x="285" y="121" width="4" height="5" fill="#fff"/>
<rect x="246" y="113" width="17" height="5" fill="#fff"/>
<rect x="267" y="113" width="18" height="5" fill="#fff"/>
<rect x="289" y="113" width="2" height="5" fill="#fff"/>
<rect x="288" y="114" width="1" height="3" fill="#fff"/>
<rect x="243" y="130" width="48" height="25" fill="#000"/>
<rect x="244" y="132" width="4" height="5" fill="#fff"/>
<rect x="250" y="132" width="3" height="5" fill="#fff"/>
<rect x="256" y="132" width="3" height="5" fill="#fff"/>
<rect x="261" y="132" width="4" height="5" fill="#fff"/>
<rect x="267" y="132" width="4" height="5" fill="#fff"/>
<rect x="273" y="132" width="4" height="5" fill="#fff"/>
<rect x="279" y="132" width="3" height="5" fill="#fff"/>
<rect x="285" y="132" width="3" height="5" fill="#fff"/>
<rect x="245" y="148" width="3" height="5" fill="#fff"/>
<rect x="250" y="148" width="4" height="5" fill="#fff"/>
<rect x="256" y="148" width="3" height="5" fill="#fff"/>
<rect x="262" y="148" width="3" height="5" fill="#fff"/>
<rect x="268" y="148" width="3" height="5" fill="#fff"/>
<rect x="274" y="148" width="3" height="5" fill="#fff"/>
<rect x="280" y="148" width="3" height="5" fill="#fff"/>
<rect x="285" y="148" width="4" height="5" fill="#fff"/>
<rect x="246" y="140" width="17" height="5" fill="#fff"/>
<rect x="267" y="140" width="18" height="5" fill="#fff"/>
<rect x="289" y="140" width="2" height="5" fill="#fff"/>
<rect x="288" y="141" width="1" height="3" fill="#fff"/>
<rect x="243" y="157" width="48" height="24" fill="#000"/>
<rect x="244" y="158" width="4" height="6" fill="#fff"/>
<rect x="250" y="158" width="3" height="6" fill="#fff"/>
<rect x="256" y="158" width="3" height="6" fill="#fff"/>
<rect x="261" y="158" width="4" height="6" fill="#fff"/>
<rect x="267" y="158" width="4" height="6" fill="#fff"/>
<rect x="273" y="158" width="4" height="6" fill="#fff"/>
<rect x="279" y="158" width="3" height="6" fill="#fff"/>
<rect x="285" y="158" width="3" height="6" fill="#fff"/>
<rect x="245" y="174" width="3" height="6" fill="#fff"/>
<rect x="250" y="174" width="4" height="6" fill="#fff"/>
<rect x="256" y="174" width="3" height="6" fill="#fff"/>
<rect x="262" y="174" width="3" height="6" fill="#fff"/>
<rect x="268" y="174" width="3" height="6" fill="#fff"/>
<rect x="274" y="174" width="3" height="6" fill="#fff"/>
<rect x="280" y="174" width="3" height="6" fill="#fff"/>
<rect x="285" y="174" width="4" height="6" fill="#fff"/>
<rect x="246" y="166" width="17" height="6" fill="#fff"/>
<rect x="267" y="166" width="18" height="6" fill="#fff"/>
<rect x="289" y="166" width="2" height="6" fill="#fff"/>
<rect x="288" y="167" width="1" height="4" fill="#fff"/>
<rect x="243" y="183" width="48" height="25" fill="#000"/>
<rect x="244" y="185" width="4" height="5" fill="#fff"/>
<rect x="250" y="185" width="3" height="5" fill="#fff"/>
<rect x="256" y="185" width="3" height="5" fill="#fff"/>
<rect x="261" y="185" width="4" height="5" fill="#fff"/>
<rect x="267" y="185" width="4" height="5" fill="#fff"/>
<rect x="273" y="185" width="4" height="5" fill="#fff"/>
<rect x="279" y="185" width="3" height="5" fill="#fff"/>
<rect x="285" y="185" width="3" height="5" fill="#fff"/>
<rect x="245" y="201" width="3" height="5" fill="#fff"/>
<rect x="250" y="201" width="4" height="5" fill="#fff"/>
<rect x="256" y="201" width="3" height="5" fill="#fff"/>
<rect x="262" y="201" width="3" height="5" fill="#fff"/>
<rect x="268" y="201" width="3" height="5" fill="#fff"/>
<rect x="274" y="201" width="3" height="5" fill="#fff"/>
<rect x="280" y="201" width="3" height="5" fill="#fff"/>
<rect x="285" y="201" width="4" height="5" fill="#fff"/>
<rect x="246" y="193" width="17" height="5" fill="#fff"/>
<rect x="267" y="193" width="18" height="5" fill="#fff"/>
<rect x="289" y="193" width="2" height="5" fill="#fff"/>
<rect x="288" y="194" width="1" height="3" fill="#fff"/>
<rect x="243" y="210" width="48" height="25" fill="#000"/>
<rect x="244" y="212" width="4" height="5" fill="#fff"/>
<rect x="250" y="212" width="3" height="5" fill="#fff"/>
<rect x="256" y="212" width="3" height="5" fill="#fff"/>
<rect x="261" y="212" width="4" height="5" fill="#fff"/>
<rect x="267" y="212" width="4" height="5" fill="#fff"/>
<rect x="273" y="212" width="4" height="5" fill="#fff"/>
<rect x="279" y="212" width="3" height="5" fill="#fff"/>
<rect x="285" y="212" width="3" height="5" fill="#fff"/>
<rect x="245" y="228" width="3" height="5" fill="#fff"/>
<rect x="250" y="228" width="4" height="5" fill="#fff"/>
<rect x="256" y="228" width="3" height="5" fill="#fff"/>
<rect x="262" y="228" width="3" height="5" fill="#fff"/>
<rect x="268" y="228" width="3" height="5" fill="#fff"/>
<rect x="274" y="228" width="3" height="5" fill="#fff"/>
<rect x="280" y="228" width="3" height="5" fill="#fff"/>
<rect x="285" y="228" width="4" height="5" fill="#fff"/>
<rect x="246" y="220" width="17" height="5" fill="#fff"/>
<rect x="267" y="220" width="18" height="5" fill="#fff"/>
<rect x="289" y="220" width="2" height="5" fill="#fff"/>
<rect x="288" y="221" width="1" height="3" fill="#fff"/>
<rect x="243" y="237" width="48" height="24" fill="#000"/>
<rect x="244" y="239" width="4" height="5" fill="#fff"/>
<rect x="250" y="239" width="3" height="5" fill="#fff"/>
<rect x="256" y="239" width="3" height="5" fill="#fff"/>
<rect x="261" y="239" width="4" height="5" fill="#fff"/>
<rect x="267" y="239" width="4" height="5" fill="#fff"/>
<rect x="273" y="239" width="4" height="5" fill="#fff"/>
<rect x="279" y="239" width="3" height="5" fill="#fff"/>
<rect x="285" y="239" width="3" height="5" fill="#fff"/>
<rect x="245" y="255" width="3" height="5" fill="#fff"/>
<rect x="250" y="255" width="4" height="5" fill="#fff"/>
<rect x="256" y="255" width="3" height="5" fill="#fff"/>
<rect x="262" y="255" width="3" height="5" fill="#fff"/>
<rect x="268" y="255" width="3" height="5" fill="#fff"/>
<rect x="274" y="255" width="3" height="5" fill="#fff"/>
<rect x="280" y="255" width="3" height="5" fill="#fff"/>
<rect x="285" y="255" width="4" height="5" fill="#fff"/>
<rect x="246" y="246" width="17" height="6" fill="#fff"/>
<rect x="267" y="246" width="18" height="6" fill="#fff"/>
<rect x="289" y="246" width="2" height="6" fill="#fff"/>
<rect x="288" y="247" width="1" height="4" fill="#fff"/>
<rect x="91" y="106" width="18" height="73" fill="#000"/>
<rect x="92" y="105" width="17" height="75" fill="#000"/>
<rect x="109" y="107" width="1" height="71" fill="#000"/>
<rect x="93" y="106" width="14" height="72" fill="#fff"/>
<rect x="93" y="106" width="1" height="1" fill="#000"/>
<text transform="scale(0.730 1)" x="131.24 131.46 131.74 131.63 131.07" y="119 134 148 162 177" font-size="14.53">BANK3</text>
<rect x="146" y="106" width="18" height="73" fill="#000"/>
<rect x="147" y="105" width="17" height="75" fill="#000"/>
<rect x="164" y="107" width="1" height="71" fill="#000"/>
<rect x="149" y="106" width="14" height="72" fill="#fff"/>
<rect x="162" y="106" width="1" height="1" fill="#000"/>
<text transform="scale(0.730 1)" x="206.59 206.80 207.08 206.97 206.37" y="119 134 148 162 177" font-size="14.53">BANK2</text>
<rect x="202" y="106" width="18" height="73" fill="#000"/>
<rect x="203" y="105" width="17" height="75" fill="#000"/>
<rect x="220" y="107" width="1" height="71" fill="#000"/>
<rect x="204" y="106" width="14" height="72" fill="#fff"/>
<rect x="204" y="106" width="1" height="1" fill="#000"/>
<text transform="scale(0.690 1)" x="300.01 300.23 300.55 300.44 300.25" y="119 134 148 162 177" font-size="14.53">BANK1</text>
<rect x="257" y="106" width="18" height="73" fill="#000"/>
<rect x="258" y="105" width="17" height="75" fill="#000"/>
<rect x="275" y="107" width="1" height="71" fill="#000"/>
<rect x="259" y="106" width="15" height="72" fill="#fff"/>
<rect x="259" y="106" width="1" height="1" fill="#000"/>
<rect x="273" y="106" width="1" height="1" fill="#000"/>
<text transform="scale(0.690 1)" x="379.72 379.94 380.26 380.15 379.29" y="119 134 148 162 177" font-size="14.53">BANK0</text>
<rect x="8" y="94" width="20" height="1" fill="#000"/>
<rect x="6" y="95" width="24" height="1" fill="#000"/>
<rect x="5" y="96" width="25" height="1" fill="#000"/>
<rect x="5" y="97" width="26" height="14" fill="#000"/>
<rect x="6" y="111" width="24" height="1" fill="#000"/>
<rect x="7" y="112" width="22" height="1" fill="#000"/>
<rect x="7" y="97" width="21" height="14" fill="#fff"/>
<rect x="7" y="110" width="1" height="1" fill="#000"/>
<rect x="28" y="100" width="5" height="1" fill="#000"/>
<rect x="28" y="101" width="10" height="1" fill="#000"/>
<rect x="31" y="102" width="11" height="1" fill="#000"/>
<rect x="37" y="103" width="8" height="1" fill="#000"/>
<rect x="31" y="104" width="14" height="1" fill="#000"/>
<rect x="28" y="105" width="13" height="1" fill="#000"/>
<rect x="28" y="106" width="6" height="1" fill="#000"/>
<rect x="28" y="102" width="3" height="1" fill="#fff"/>
<rect x="28" y="103" width="9" height="1" fill="#fff"/>
<rect x="28" y="104" width="3" height="1" fill="#fff"/>
<text transform="scale(0.660 1)" x="15.85 27.07" y="108" font-size="14.53">P4</text>
<rect x="6" y="150" width="20" height="1" fill="#000"/>
<rect x="4" y="151" width="24" height="1" fill="#000"/>
<rect x="3" y="152" width="25" height="1" fill="#000"/>
<rect x="3" y="153" width="26" height="14" fill="#000"/>
<rect x="4" y="167" width="24" height="1" fill="#000"/>
<rect x="5" y="168" width="22" height="1" fill="#000"/>
<rect x="5" y="153" width="21" height="14" fill="#fff"/>
<rect x="5" y="166" width="1" height="1" fill="#000"/>
<rect x="26" y="156" width="6" height="1" fill="#000"/>
<rect x="26" y="157" width="13" height="1" fill="#000"/>
<rect x="29" y="158" width="14" height="1" fill="#000"/>
<rect x="35" y="159" width="8" height="1" fill="#000"/>
<rect x="29" y="160" width="14" height="1" fill="#000"/>
<rect x="26" y="161" width="13" height="1" fill="#000"/>
<rect x="26" y="162" width="6" height="1" fill="#000"/>
<rect x="26" y="158" width="3" height="1" fill="#fff"/>
<rect x="26" y="159" width="9" height="1" fill="#fff"/>
<rect x="26" y="160" width="3" height="1" fill="#fff"/>
<text transform="scale(0.660 1)" x="11.31 24.00" y="164" font-size="14.53">P5</text>
<rect x="342" y="40" width="30" height="1" fill="#000"/>
<rect x="340" y="41" width="34" height="1" fill="#000"/>
<rect x="339" y="42" width="35" height="1" fill="#000"/>
<rect x="339" y="43" width="36" height="14" fill="#000"/>
<rect x="340" y="57" width="34" height="1" fill="#000"/>
<rect x="341" y="58" width="32" height="1" fill="#000"/>
<rect x="341" y="43" width="31" height="14" fill="#fff"/>
<rect x="341" y="56" width="1" height="1" fill="#000"/>
<rect x="337" y="46" width="4" height="1" fill="#000"/>
<rect x="332" y="47" width="9" height="1" fill="#000"/>
<rect x="327" y="48" width="12" height="1" fill="#000"/>
<rect x="325" y="49" width="8" height="1" fill="#000"/>
<rect x="325" y="50" width="14" height="1" fill="#000"/>
<rect x="328" y="51" width="13" height="1" fill="#000"/>
<rect x="336" y="52" width="5" height="1" fill="#000"/>
<rect x="338" y="48" width="3" height="1" fill="#fff"/>
<rect x="333" y="49" width="8" height="1" fill="#fff"/>
<rect x="338" y="50" width="3" height="1" fill="#fff"/>
<text transform="scale(0.660 1)" x="522.55 534.03 545.35" y="53" font-size="14.53">JP2</text>
<rect x="440" y="353" width="30" height="1" fill="#000"/>
<rect x="438" y="354" width="34" height="1" fill="#000"/>
<rect x="437" y="355" width="35" height="1" fill="#000"/>
<rect x="437" y="356" width="36" height="14" fill="#000"/>
<rect x="438" y="370" width="34" height="1" fill="#000"/>
<rect x="439" y="371" width="32" height="1" fill="#000"/>
<rect x="439" y="356" width="31" height="14" fill="#fff"/>
<rect x="439" y="369" width="1" height="1" fill="#000"/>
<rect x="470" y="359" width="5" height="1" fill="#000"/>
<rect x="470" y="360" width="10" height="1" fill="#000"/>
<rect x="474" y="361" width="10" height="1" fill="#000"/>
<rect x="480" y="362" width="7" height="1" fill="#000"/>
<rect x="476" y="363" width="11" height="1" fill="#000"/>
<rect x="472" y="364" width="12" height="1" fill="#000"/>
<rect x="470" y="365" width="9" height="1" fill="#000"/>
<rect x="470" y="366" width="5" height="1" fill="#000"/>
<rect x="470" y="361" width="4" height="1" fill="#fff"/>
<rect x="470" y="362" width="10" height="1" fill="#fff"/>
<rect x="470" y="363" width="6" height="1" fill="#fff"/>
<rect x="470" y="364" width="2" height="1" fill="#fff"/>
<text transform="scale(0.720 1)" x="612.10 624.39 639.85" y="367" font-size="14.53">SW2</text>
<rect x="45" y="93" width="7" height="26" fill="#000"/>
<rect x="46" y="94" width="5" height="1" fill="#fff"/>
<rect x="47" y="96" width="3" height="2" fill="#fff"/>
<rect x="46" y="99" width="5" height="2" fill="#fff"/>
<rect x="46" y="105" width="5" height="2" fill="#fff"/>
<rect x="46" y="111" width="5" height="1" fill="#fff"/>
<rect x="46" y="117" width="5" height="1" fill="#fff"/>
<rect x="43" y="153" width="13" height="13" fill="#000"/>
<rect x="44" y="154" width="11" height="1" fill="#fff"/>
<rect x="49" y="154" width="1" height="11" fill="#fff"/>
<rect x="54" y="154" width="1" height="11" fill="#fff"/>
<rect x="44" y="159" width="11" height="2" fill="#fff"/>
<rect x="45" y="156" width="3" height="2" fill="#fff"/>
<text transform="scale(0.800 1)" x="70.74" y="155" font-size="13.08">2</text>
<rect x="311" y="47" width="14" height="6" fill="#000"/>
<rect x="312" y="48" width="1" height="4" fill="#fff"/>
<rect x="317" y="48" width="1" height="4" fill="#fff"/>
<rect x="323" y="48" width="1" height="4" fill="#fff"/>
<rect x="487" y="353" width="68" height="20" fill="#000"/>
<rect x="488" y="354" width="66" height="18" fill="#fff"/>
<rect x="493" y="357" width="6" height="11" fill="#000"/>
<rect x="494" y="358" width="4" height="9" fill="#fff"/>
<rect x="500" y="357" width="6" height="11" fill="#000"/>
<rect x="508" y="357" width="6" height="11" fill="#000"/>
<rect x="515" y="357" width="6" height="11" fill="#000"/>
<rect x="522" y="357" width="6" height="11" fill="#000"/>
<rect x="529" y="357" width="7" height="11" fill="#000"/>
<rect x="537" y="357" width="6" height="11" fill="#000"/>
<rect x="544" y="357" width="6" height="11" fill="#000"/>
<rect x="489" y="354" width="3" height="1" fill="#000"/>
<rect x="488" y="355" width="1" height="3" fill="#000"/>
<rect x="491" y="355" width="2" height="1" fill="#000"/>
<rect x="492" y="356" width="1" height="2" fill="#000"/>
<rect x="491" y="358" width="1" height="1" fill="#000"/>
<rect x="490" y="359" width="1" height="1" fill="#000"/>
<rect x="488" y="358" width="2" height="1" fill="#000"/>
<rect x="605" y="370" width="127" height="42" fill="#000"/>
<path d="M655 384H683V398H655L654 397V385z" fill="#fff"/>
<text transform="scale(0.660 1)" x="993.75 1008.27 1022.03" y="396" font-size="14.53">CPU</text>
<rect x="605" y="422" width="127" height="43" fill="#000"/>
<rect x="608" y="424" width="4" height="5" fill="#fff"/>
<rect x="615" y="424" width="3" height="5" fill="#fff"/>
<rect x="621" y="424" width="4" height="5" fill="#fff"/>
<rect x="627" y="424" width="4" height="5" fill="#fff"/>
<rect x="634" y="424" width="3" height="5" fill="#fff"/>
<rect x="639" y="424" width="4" height="5" fill="#fff"/>
<rect x="646" y="424" width="3" height="5" fill="#fff"/>
<rect x="652" y="424" width="3" height="5" fill="#fff"/>
<rect x="658" y="424" width="4" height="5" fill="#fff"/>
<rect x="664" y="424" width="4" height="5" fill="#fff"/>
<rect x="671" y="424" width="3" height="5" fill="#fff"/>
<rect x="677" y="424" width="3" height="5" fill="#fff"/>
<rect x="683" y="424" width="4" height="5" fill="#fff"/>
<rect x="689" y="424" width="4" height="5" fill="#fff"/>
<rect x="696" y="424" width="3" height="5" fill="#fff"/>
<rect x="701" y="424" width="4" height="5" fill="#fff"/>
<rect x="708" y="424" width="3" height="5" fill="#fff"/>
<rect x="714" y="424" width="4" height="5" fill="#fff"/>
<rect x="720" y="424" width="4" height="5" fill="#fff"/>
<rect x="727" y="424" width="3" height="5" fill="#fff"/>
<rect x="608" y="458" width="4" height="5" fill="#fff"/>
<rect x="614" y="458" width="4" height="5" fill="#fff"/>
<rect x="621" y="458" width="3" height="5" fill="#fff"/>
<rect x="627" y="458" width="3" height="5" fill="#fff"/>
<rect x="633" y="458" width="4" height="5" fill="#fff"/>
<rect x="639" y="458" width="3" height="5" fill="#fff"/>
<rect x="645" y="458" width="4" height="5" fill="#fff"/>
<rect x="652" y="458" width="3" height="5" fill="#fff"/>
<rect x="658" y="458" width="3" height="5" fill="#fff"/>
<rect x="664" y="458" width="3" height="5" fill="#fff"/>
<rect x="670" y="458" width="4" height="5" fill="#fff"/>
<rect x="677" y="458" width="3" height="5" fill="#fff"/>
<rect x="683" y="458" width="3" height="5" fill="#fff"/>
<rect x="689" y="458" width="4" height="5" fill="#fff"/>
<rect x="695" y="458" width="4" height="5" fill="#fff"/>
<rect x="701" y="458" width="4" height="5" fill="#fff"/>
<rect x="707" y="458" width="4" height="5" fill="#fff"/>
<rect x="714" y="458" width="3" height="5" fill="#fff"/>
<rect x="720" y="458" width="3" height="5" fill="#fff"/>
<rect x="726" y="458" width="4" height="5" fill="#fff"/>
<rect x="613" y="431" width="110" height="24" fill="#fff"/>
<rect x="665" y="431" width="6" height="24" fill="#000"/>
<path d="M654 434H683L685 436V451L683 453H654L652 451V436z" fill="#000"/>
<path d="M655 436H682L683 437V449L682 450H655L654 449V437z" fill="#fff"/>
<text transform="scale(0.720 1)" x="911.42 923.41 936.42" y="448" font-size="14.53">NPU</text>
<rect x="614" y="476" width="112" height="24" fill="#000"/>
<rect x="615" y="477" width="110" height="22" fill="#fff"/>
<rect x="615" y="483" width="110" height="1" fill="#000"/>
<rect x="616" y="479" width="7" height="3" fill="#000"/>
<rect x="617" y="480" width="5" height="1" fill="#fff"/>
<rect x="618" y="482" width="4" height="1" fill="#000"/>
<rect x="616" y="486" width="7" height="2" fill="#000"/>
<rect x="625" y="479" width="7" height="3" fill="#000"/>
<rect x="626" y="480" width="5" height="1" fill="#fff"/>
<rect x="627" y="482" width="4" height="1" fill="#000"/>
<rect x="625" y="486" width="7" height="2" fill="#000"/>
<rect x="634" y="479" width="8" height="3" fill="#000"/>
<rect x="635" y="480" width="6" height="1" fill="#fff"/>
<rect x="636" y="482" width="5" height="1" fill="#000"/>
<rect x="634" y="486" width="8" height="2" fill="#000"/>
<rect x="643" y="479" width="7" height="3" fill="#000"/>
<rect x="644" y="480" width="5" height="1" fill="#fff"/>
<rect x="644" y="482" width="4" height="1" fill="#000"/>
<rect x="643" y="486" width="7" height="2" fill="#000"/>
<rect x="653" y="479" width="7" height="3" fill="#000"/>
<rect x="654" y="480" width="5" height="1" fill="#fff"/>
<rect x="654" y="482" width="4" height="1" fill="#000"/>
<rect x="653" y="486" width="7" height="2" fill="#000"/>
<rect x="662" y="479" width="7" height="3" fill="#000"/>
<rect x="663" y="480" width="5" height="1" fill="#fff"/>
<rect x="663" y="482" width="4" height="1" fill="#000"/>
<rect x="662" y="486" width="7" height="2" fill="#000"/>
<rect x="671" y="479" width="7" height="3" fill="#000"/>
<rect x="672" y="480" width="5" height="1" fill="#fff"/>
<rect x="672" y="482" width="4" height="1" fill="#000"/>
<rect x="671" y="486" width="7" height="2" fill="#000"/>
<rect x="680" y="479" width="7" height="3" fill="#000"/>
<rect x="681" y="480" width="5" height="1" fill="#fff"/>
<rect x="681" y="482" width="4" height="1" fill="#000"/>
<rect x="680" y="486" width="7" height="2" fill="#000"/>
<rect x="690" y="479" width="7" height="3" fill="#000"/>
<rect x="691" y="480" width="5" height="1" fill="#fff"/>
<rect x="691" y="482" width="4" height="1" fill="#000"/>
<rect x="690" y="486" width="7" height="2" fill="#000"/>
<rect x="699" y="479" width="7" height="3" fill="#000"/>
<rect x="700" y="480" width="5" height="1" fill="#fff"/>
<rect x="700" y="482" width="4" height="1" fill="#000"/>
<rect x="699" y="486" width="7" height="2" fill="#000"/>
<rect x="708" y="479" width="7" height="3" fill="#000"/>
<rect x="709" y="480" width="5" height="1" fill="#fff"/>
<rect x="709" y="482" width="4" height="1" fill="#000"/>
<rect x="708" y="486" width="7" height="2" fill="#000"/>
<rect x="717" y="479" width="8" height="3" fill="#000"/>
<rect x="718" y="480" width="6" height="1" fill="#fff"/>
<rect x="718" y="482" width="5" height="1" fill="#000"/>
<rect x="717" y="486" width="8" height="2" fill="#000"/>
<rect x="620" y="489" width="7" height="8" fill="#000"/>
<rect x="621" y="490" width="5" height="6" fill="#fff"/>
<rect x="630" y="489" width="7" height="8" fill="#000"/>
<rect x="631" y="490" width="5" height="6" fill="#fff"/>
<rect x="639" y="489" width="8" height="8" fill="#000"/>
<rect x="640" y="490" width="6" height="6" fill="#fff"/>
<rect x="648" y="489" width="8" height="8" fill="#000"/>
<rect x="649" y="490" width="6" height="6" fill="#fff"/>
<rect x="657" y="489" width="8" height="8" fill="#000"/>
<rect x="658" y="490" width="6" height="6" fill="#fff"/>
<rect x="667" y="489" width="7" height="8" fill="#000"/>
<rect x="668" y="490" width="5" height="6" fill="#fff"/>
<rect x="676" y="489" width="7" height="8" fill="#000"/>
<rect x="677" y="490" width="5" height="6" fill="#fff"/>
<rect x="685" y="489" width="8" height="8" fill="#000"/>
<rect x="686" y="490" width="6" height="6" fill="#fff"/>
<rect x="694" y="489" width="8" height="8" fill="#000"/>
<rect x="695" y="490" width="6" height="6" fill="#fff"/>
<rect x="703" y="489" width="8" height="8" fill="#000"/>
<rect x="704" y="490" width="6" height="6" fill="#fff"/>
<rect x="714" y="489" width="7" height="8" fill="#000"/>
<rect x="715" y="490" width="5" height="6" fill="#fff"/>
<rect x="614" y="489" width="4" height="8" fill="#000"/>
<rect x="615" y="490" width="2" height="1" fill="#fff"/>
<rect x="615" y="495" width="2" height="1" fill="#fff"/>
<rect x="614" y="492" width="2" height="2" fill="#fff"/>
<rect x="723" y="489" width="3" height="8" fill="#000"/>
<rect x="724" y="490" width="1" height="1" fill="#fff"/>
<rect x="724" y="495" width="1" height="1" fill="#fff"/>
<rect x="725" y="492" width="1" height="2" fill="#fff"/>
<rect x="723" y="482" width="2" height="1" fill="#fff"/>
<rect x="766" y="441" width="32" height="37" fill="#000"/>
<rect x="790" y="437" width="8" height="46" fill="#000"/>
<rect x="793" y="434" width="5" height="51" fill="#000"/>
<rect x="764" y="447" width="2" height="25" fill="#000"/>
<rect x="760" y="450" width="5" height="7" fill="#000"/>
<rect x="761" y="451" width="3" height="5" fill="#fff"/>
<rect x="760" y="461" width="5" height="9" fill="#000"/>
<rect x="761" y="462" width="3" height="7" fill="#fff"/>
<rect x="765" y="457" width="2" height="5" fill="#fff"/>
<text transform="scale(0.820 1)" x="774.80 785.52 795.75 804.29 812.87 821.13" y="45" font-size="13.08">MH2845</text>
</svg>
</body>
</html>
